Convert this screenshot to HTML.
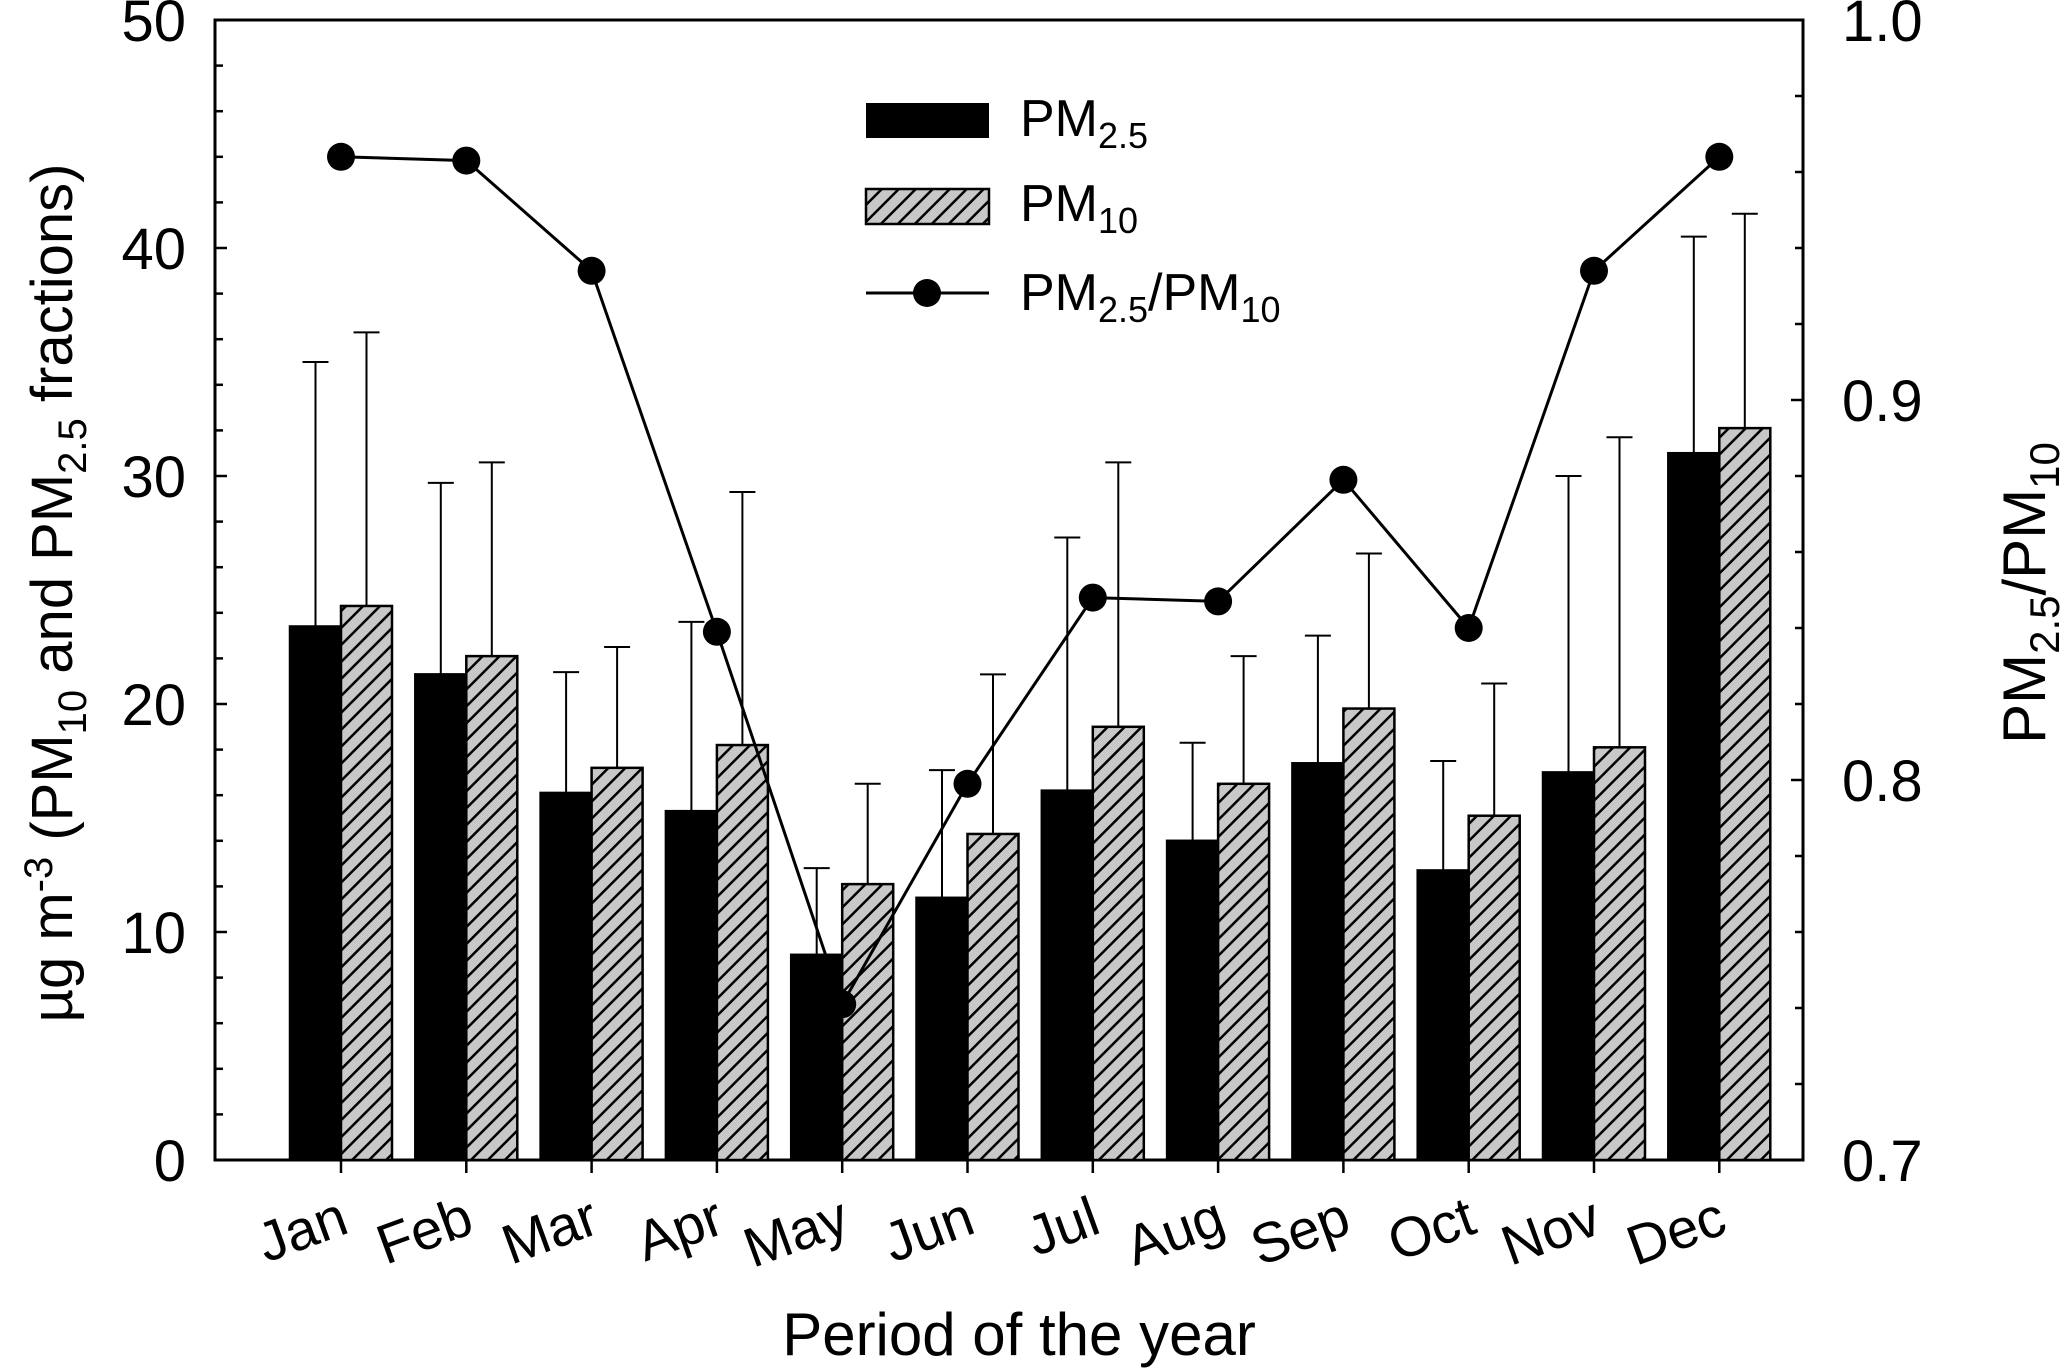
<!DOCTYPE html>
<html><head><meta charset="utf-8">
<style>
html,body{margin:0;padding:0;background:#fff;}
svg{display:block;font-family:"Liberation Sans",Arial,sans-serif;}
</style></head>
<body>
<svg id="chart" width="2067" height="1369" viewBox="0 0 2067 1369" xmlns="http://www.w3.org/2000/svg">
<defs>
<pattern id="hatch" patternUnits="userSpaceOnUse" width="12" height="12" patternTransform="rotate(45)">
<rect width="12" height="12" fill="#c8c8c8"/>
<line x1="0" y1="0" x2="0" y2="12" stroke="#000" stroke-width="5"/>
</pattern>
</defs>
<g id="axes"></g>
<g id="bars"></g>
<g id="line"></g>
<g>
<rect x="866" y="103" width="123" height="35" fill="#000"/>
<text x="1020" y="136" font-size="52">PM<tspan font-size="36" dy="12">2.5</tspan></text>
<rect x="866" y="189" width="123" height="35" fill="url(#hatch)" stroke="#000" stroke-width="2.5"/>
<text x="1020" y="221" font-size="52">PM<tspan font-size="36" dy="12">10</tspan></text>
<line x1="866" y1="293" x2="989" y2="293" stroke="#000" stroke-width="3"/>
<circle cx="927" cy="293" r="14" fill="#000"/>
<text x="1020" y="310" font-size="52">PM<tspan font-size="36" dy="12">2.5</tspan><tspan dy="-12">/PM</tspan><tspan font-size="36" dy="12">10</tspan></text>
</g>
<text x="1019" y="1355" font-size="60" text-anchor="middle">Period of the year</text>
<text transform="translate(72,593) rotate(-90)" font-size="58" text-anchor="middle">µg m<tspan font-size="40" dy="-20">-3</tspan><tspan dy="20"> (PM</tspan><tspan font-size="40" dy="14">10</tspan><tspan dy="-14"> and PM</tspan><tspan font-size="40" dy="14">2.5</tspan><tspan dy="-14"> fractions)</tspan></text>
<text transform="translate(2045,593) rotate(-90)" font-size="60" text-anchor="middle">PM<tspan font-size="42" dy="14">2.5</tspan><tspan dy="-14">/PM</tspan><tspan font-size="42" dy="14">10</tspan></text>
</svg>
<script>
const months = ["Jan","Feb","Mar","Apr","May","Jun","Jul","Aug","Sep","Oct","Nov","Dec"];
const pm25 = [23.4,21.3,16.1,15.3,9.0,11.5,16.2,14.0,17.4,12.7,17.0,31.0];
const pm25Err = [11.6,8.4,5.3,8.3,3.8,5.6,11.1,4.3,5.6,4.8,13.0,9.5];
const pm10 = [24.3,22.1,17.2,18.2,12.1,14.3,19.0,16.5,19.8,15.1,18.1,32.1];
const pm10Err = [12.0,8.5,5.3,11.1,4.4,7.0,11.6,5.6,6.8,5.8,13.6,9.4];
const ratio = [0.964,0.963,0.934,0.839,0.741,0.799,0.848,0.847,0.879,0.840,0.934,0.964];
const yTicks = [0,10,20,30,40,50];
const y2Ticks = ["0.7","0.8","0.9","1.0"];

const L=215,R=1803,T=20,B=1160;
const NS="http://www.w3.org/2000/svg";
const y=v=>B-(v/50)*(B-T);
const y2=v=>B-((v-0.7)/0.3)*(B-T);
const x=i=>341+i*125.3;
function mk(tag,attrs,parent){const e=document.createElementNS(NS,tag);for(const k in attrs)e.setAttribute(k,attrs[k]);parent.appendChild(e);return e;}
const axes=document.getElementById('axes'),bars=document.getElementById('bars'),lineG=document.getElementById('line');

const frame=mk('rect',{x:L,y:T,width:R-L,height:B-T,fill:'none',stroke:'#000','stroke-width':3},axes);


for(let v=0;v<=50;v+=2){
  const major=v%10===0;
  const t=mk('line',{x1:L,x2:L+(major?12:8),y1:y(v),y2:y(v),stroke:'#000','stroke-width':2.5},axes);
  
  
}
yTicks.forEach(v=>{
  const t=mk('text',{x:186,y:y(v)+21,'font-size':58,'text-anchor':'end'},axes);
  t.textContent=v;
  
  
});
for(let k=0;k<=15;k++){
  const v=0.7+k*0.02;
  const major=k%5===0;
  const t=mk('line',{x1:R,x2:R-(major?12:8),y1:y2(v),y2:y2(v),stroke:'#000','stroke-width':2.5},axes);
  
  
}
y2Ticks.forEach(s=>{
  const t=mk('text',{x:1842,y:y2(parseFloat(s))+21,'font-size':58},axes);
  t.textContent=s;
  
  
});
months.forEach((m,i)=>{
  const t=mk('line',{x1:x(i),x2:x(i),y1:B,y2:B+13,stroke:'#000','stroke-width':2.5},axes);
  
  
  const lb=mk('text',{x:0,y:0,'font-size':56,'text-anchor':'end',transform:`translate(${x(i)+10},${1232}) rotate(-20)`},axes);
  lb.textContent=m;
  
  
});
const bw=51;
months.forEach((m,i)=>{
  const cx1=x(i)-bw/2, cx2=x(i)+bw/2;
  [[pm25,pm25Err,cx1,'#000','bar-pm25'],[pm10,pm10Err,cx2,'url(#hatch)','bar-pm10']].forEach(([vals,errs,cx,fill,name])=>{
    const top=y(vals[i]+errs[i]);
    const el=mk('line',{x1:cx,x2:cx,y1:y(vals[i]),y2:top,stroke:'#000','stroke-width':2},bars);
    
    
    const cap=mk('line',{x1:cx-13,x2:cx+13,y1:top,y2:top,stroke:'#000','stroke-width':2},bars);
    
    
    const r=mk('rect',{x:cx-bw/2,y:y(vals[i]),width:bw,height:B-y(vals[i]),fill:fill,stroke:'#000','stroke-width':2.5},bars);
    
    
  });
});
const pts=ratio.map((v,i)=>`${x(i)},${y2(v)}`).join(' ');
const pl=mk('polyline',{points:pts,fill:'none',stroke:'#000','stroke-width':3},lineG);


ratio.forEach((v,i)=>{
  const c=mk('circle',{cx:x(i),cy:y2(v),r:14,fill:'#000'},lineG);
  
  
});
</script>
</body></html>
